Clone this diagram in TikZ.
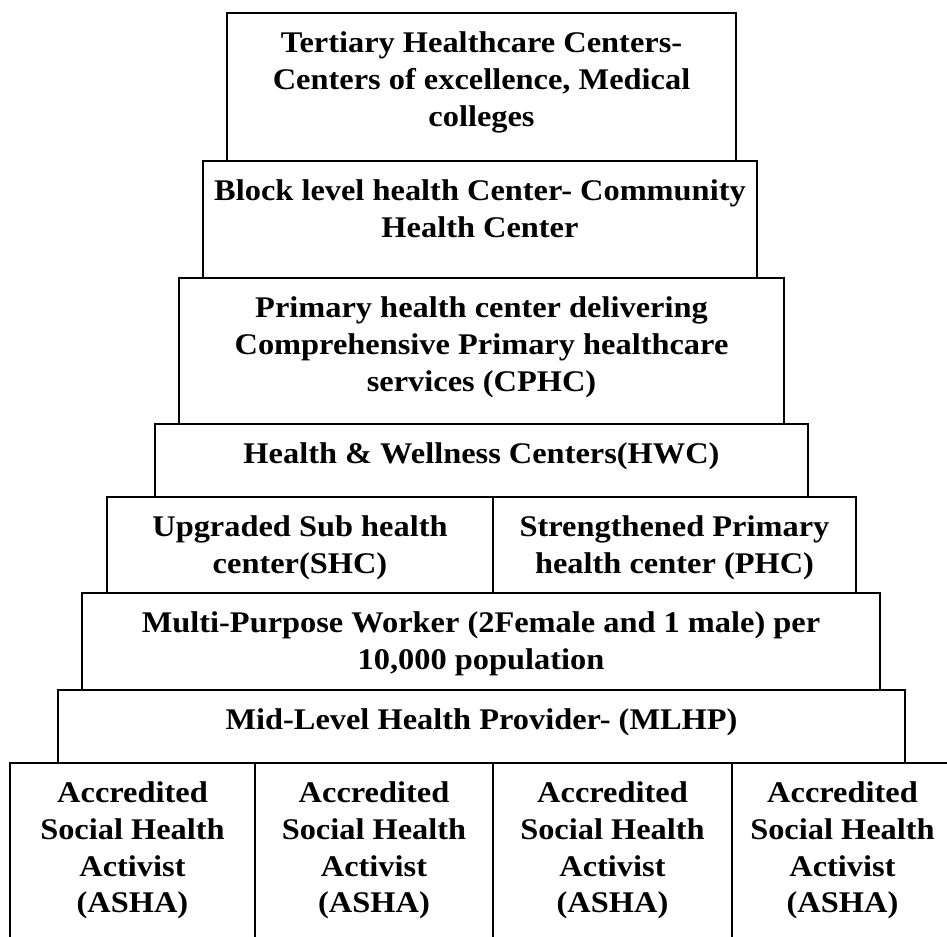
\documentclass[tikz,border=0pt]{standalone}
\usepackage{fontspec}
\setmainfont{Liberation Serif}[FakeStretch=1.08]
\begin{document}
\begin{tikzpicture}[x=0.75pt,y=-0.75pt,
  tierbox/.style={draw=black, line width=2pt, rectangle, inner sep=0pt},
  tiertext/.style={anchor=north, inner sep=0pt, align=center,
    font=\bfseries\fontsize{22.5}{27.5}\selectfont}]
\useasboundingbox (0,0) rectangle (947,937);
\fill[white] (0,0) rectangle (947,937);
\clip (0,0) rectangle (947,937);
\newcommand{\tierat}[6]{%
  \node[tierbox, minimum width={(#4-#2)*0.75pt}, minimum height={(#5-#3)*0.75pt}]
    (#1) at ({(#2+#4)/2},{(#3+#5)/2}) {};
  \node[tiertext] (#1t) at ([yshift=-15pt]#1.north) {#6};}
\tierat{tert}{227}{13}{736}{161}{Tertiary Healthcare Centers-\\Centers of excellence, Medical\\colleges}
\tierat{block}{203}{161}{757}{278}{Block level health Center- Community\\Health Center}
\tierat{prim}{179}{278}{784}{424}{Primary health center delivering\\Comprehensive Primary healthcare\\services (CPHC)}
\tierat{hwc}{155}{424}{808}{497}{Health \& Wellness Centers(HWC)}
\tierat{shc}{107}{497}{493}{593}{Upgraded Sub health\\center(SHC)}
\tierat{phc}{493}{497}{856}{593}{Strengthened Primary\\health center (PHC)}
\tierat{mpw}{82}{593}{880}{690}{Multi-Purpose Worker (2Female and 1 male) per\\10,000 population}
\tierat{mlhp}{58}{690}{905}{763}{Mid-Level Health Provider- (MLHP)}
\tierat{ashaa}{10}{763}{255}{942}{Accredited\\Social Health\\Activist\\(ASHA)}
\tierat{ashab}{255}{763}{493}{942}{Accredited\\Social Health\\Activist\\(ASHA)}
\tierat{ashac}{493}{763}{732}{942}{Accredited\\Social Health\\Activist\\(ASHA)}
\tierat{ashad}{732}{763}{953}{942}{Accredited\\Social Health\\Activist\\(ASHA)}
\end{tikzpicture}
\end{document}
